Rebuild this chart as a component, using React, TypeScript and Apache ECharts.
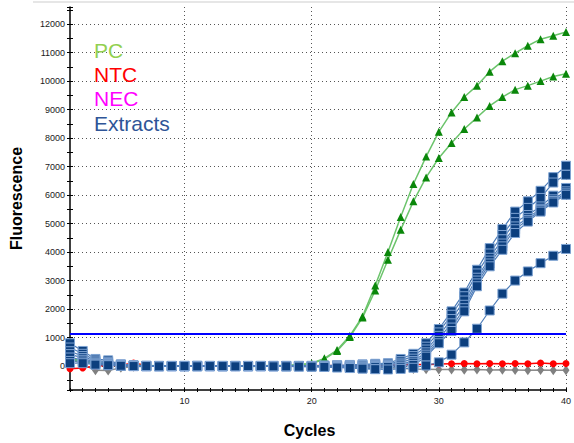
import React, { useEffect, useRef } from "react";
import * as echarts from "echarts";

const CYCLES = [1, 2, 3, 4, 5, 6, 7, 8, 9, 10, 11, 12, 13, 14, 15, 16, 17, 18, 19, 20, 21, 22, 23, 24, 25, 26, 27, 28, 29, 30, 31, 32, 33, 34, 35, 36, 37, 38, 39, 40];

const PC_A = [250, 200, 110, 80, 40, 30, 20, 10, 10, 10, 0, 10, 10, 0, 10, 10, 20, 30, 50, 100, 270, 560, 1060, 1740, 2830, 4000, 5230, 6390, 7350, 8220, 8900, 9440, 9840, 10330, 10700, 10980, 11240, 11470, 11590, 11720];
const PC_B = [200, 170, 100, 60, 30, 20, 10, 0, 10, 0, 10, 0, 0, 10, -20, 0, 10, 20, 40, 90, 240, 530, 1020, 1700, 2650, 3730, 4780, 5780, 6620, 7300, 7830, 8320, 8720, 9130, 9440, 9700, 9840, 10000, 10160, 10260];

const NTC = [-90, -70, 0, 20, 30, 110, 20, 10, 0, 10, 0, 0, 10, 0, 10, 0, 10, 0, 10, 10, 20, 10, 20, 10, 20, 30, 40, 60, 50, 70, 80, 90, 80, 90, 80, 90, 80, 110, 80, 90];
const NEC = [260, 60, -150, -160, -60, -20, -10, -10, 0, -10, 0, -10, 0, -10, 0, -10, 0, -10, -10, -10, -20, -20, -30, -40, -50, -60, -80, -100, -110, -120, -120, -130, -120, -140, -130, -140, -150, -140, -150, -150];

const EXT_1 = [800, 530, 250, 200, 60, 30, 10, 0, -10, 0, 10, 0, 0, 10, 0, 0, 10, 0, 0, 10, 20, 30, 40, 60, 80, 100, 250, 430, 800, 1300, 1920, 2580, 3380, 4140, 4810, 5420, 5780, 6150, 6630, 7030];
const EXT_2 = [650, 430, 200, 150, 50, 20, 0, 10, 0, -10, 0, 10, 0, 0, -10, 0, 0, 10, 0, 0, 10, 20, 20, 40, 50, 60, 180, 350, 680, 1180, 1800, 2450, 3250, 3950, 4600, 5200, 5550, 5900, 6440, 6710];
const EXT_3 = [520, 350, 160, 110, 40, 10, 0, 0, 10, 0, -10, 0, 10, 0, 0, -10, 0, 0, 10, 0, 0, 10, 0, 20, 30, 30, 120, 260, 580, 1060, 1650, 2300, 3100, 3800, 4450, 5050, 5300, 5600, 5980, 6250];
const EXT_4 = [420, 280, 120, 80, 30, 0, 10, 0, 0, 10, 0, -10, 0, 0, 10, 0, -10, 0, 0, -10, 0, 0, -20, -10, 0, 10, 60, 180, 480, 960, 1500, 2150, 3000, 3700, 4300, 4900, 5200, 5520, 5850, 6130];
const EXT_5 = [300, 220, 90, 60, 20, 10, 0, -10, 0, 0, 10, 0, -10, 0, 0, 10, 0, -10, 0, 0, -10, -20, -30, -40, -30, 0, 20, 120, 400, 880, 1350, 2030, 2900, 3600, 4200, 4800, 5130, 5470, 5790, 6060];
const EXT_6 = [180, 160, 60, 40, 10, 0, -10, 0, 0, -10, 0, 0, -10, 0, -10, 0, 0, -10, -10, -20, -30, -40, -60, -80, -100, -30, -40, 40, 330, 800, 1230, 1920, 2800, 3500, 4080, 4670, 5070, 5420, 5740, 6010];
const EXT_7 = [100, 100, 50, 30, 10, 0, 0, -10, 0, 0, -10, 0, 0, -10, 0, 0, -10, -10, -20, -20, -30, -50, -70, -90, -110, -120, -100, -60, 20, 130, 400, 830, 1310, 1950, 2540, 3000, 3320, 3610, 3870, 4110];
const EXTRACTS = [EXT_1, EXT_2, EXT_3, EXT_4, EXT_5, EXT_6, EXT_7];

const THRESHOLD = 1120;
const Y_MIN = -840;
const Y_MAX = 12600;
const X_MIN = 1;
const X_MAX = 40;

const LEGEND_ITEMS = [
  { name: "PC", color: "#92d050" },
  { name: "NTC", color: "#ff0000" },
  { name: "NEC", color: "#ff00ff" },
  { name: "Extracts", color: "#2f5597" },
];

const FONT = "'Liberation Sans', Arial, sans-serif";

const zip = (vals: number[]) => CYCLES.map((c, i) => [c, vals[i]]);

export default function App() {
  const ref = useRef<HTMLDivElement>(null);
  useEffect(() => {
    document.body.style.margin = "0";
    if (!ref.current) return;
    const chart = echarts.init(ref.current, undefined, { renderer: "svg" });

    const tickAxisX = (inside: boolean) => ({
      type: "value",
      min: X_MIN,
      max: X_MAX,
      interval: 1,
      position: "bottom",
      axisLine: { show: false, onZero: false },
      axisLabel: { show: false },
      splitLine: { show: false },
      axisTick: { show: true, inside, length: 2, lineStyle: { color: "#000", width: 1 } },
    });
    const tickAxisY = (inside: boolean) => ({
      type: "value",
      min: Y_MIN,
      max: Y_MAX,
      splitNumber: 27,
      position: "left",
      axisLine: { show: false, onZero: false },
      axisLabel: { show: false },
      splitLine: { show: false },
      axisTick: { show: true, inside, length: 3, lineStyle: { color: "#000", width: 1 } },
    });

    const series: any[] = [];
    series.push({
      name: "NEC",
      type: "line",
      data: zip(NEC),
      symbol: "diamond",
      symbolSize: [7, 10],
      itemStyle: { color: "#808080" },
      lineStyle: { color: "#8c8c8c", width: 1.5 },
      markLine: {
        silent: true,
        symbol: "none",
        label: { show: false },
        lineStyle: { color: "#0000ff", width: 2, type: "solid" },
        data: [{ yAxis: THRESHOLD }],
      },
    });
    series.push({
      name: "NTC",
      type: "line",
      data: zip(NTC),
      symbol: "circle",
      symbolSize: 7,
      itemStyle: { color: "#ff0000" },
      lineStyle: { color: "#ff0000", width: 1.5 },
    });
    [PC_A, PC_B].forEach((vals) =>
      series.push({
        name: "PC",
        type: "line",
        data: zip(vals),
        symbol: "triangle",
        symbolSize: 8,
        itemStyle: { color: "#0a870a" },
        lineStyle: { color: "#6cc46c", width: 1.5 },
      })
    );
    EXTRACTS.forEach((vals) =>
      series.push({
        name: "Extracts",
        type: "line",
        data: zip(vals),
        symbol: "rect",
        symbolSize: 9,
        itemStyle: { color: "#0c3f7e", borderColor: "#7ea3d3", borderWidth: 1 },
        lineStyle: { color: "#4d7cb8", width: 1.2 },
      })
    );

    chart.setOption({
      animation: false,
      backgroundColor: "#ffffff",
      grid: { left: 66.5, right: 6.7, top: 7, bottom: 52.7, containLabel: false },
      legend: {
        show: true,
        orient: "vertical",
        left: 84,
        top: 33,
        icon: "none",
        itemWidth: 0,
        itemHeight: 0,
        itemGap: 0.4,
        selectedMode: false,
        textStyle: { fontFamily: FONT, fontSize: 21, lineHeight: 24 },
        data: LEGEND_ITEMS.map((it) => ({ name: it.name, textStyle: { color: it.color } })),
      },
      graphic: [
        {
          type: "line",
          silent: true,
          shape: { x1: 33, y1: 2, x2: 574, y2: 2 },
          style: { stroke: "#e6e6e6", lineWidth: 2 },
        },
      ],
      xAxis: [
        {
          type: "value",
          min: X_MIN,
          max: X_MAX,
          splitNumber: 4,
          position: "bottom",
          name: "Cycles",
          nameLocation: "middle",
          nameGap: 32,
          nameTextStyle: { fontFamily: FONT, fontSize: 16, fontWeight: "bold", color: "#000", padding: [0, 17, 0, 0] },
          axisLine: { show: true, onZero: false, lineStyle: { color: "#000", width: 1.5 } },
          axisTick: { show: false },
          axisLabel: {
            margin: 6,
            fontFamily: FONT,
            fontSize: 9,
            color: "#1a1a1a",
            formatter: (v: number) => (v % 10 === 0 ? String(v) : ""),
          },
          splitLine: {
            show: true,
            showMinLine: false,
            lineStyle: { color: "#555", type: [1, 3], width: 1 },
          },
        },
        tickAxisX(false),
        tickAxisX(true),
      ],
      yAxis: [
        {
          type: "value",
          min: Y_MIN,
          max: Y_MAX,
          splitNumber: 13,
          position: "left",
          name: "Fluorescence",
          nameLocation: "middle",
          nameGap: 46,
          nameTextStyle: { fontFamily: FONT, fontSize: 16, fontWeight: "bold", color: "#000" },
          axisLine: { show: true, onZero: false, lineStyle: { color: "#000", width: 1.5 } },
          axisTick: { show: false },
          axisLabel: {
            margin: 5,
            fontFamily: FONT,
            fontSize: 9,
            color: "#1a1a1a",
            formatter: (v: number) => (v % 1000 === 0 && v >= 0 ? String(v) : ""),
          },
          splitLine: {
            show: true,
            showMinLine: false,
            showMaxLine: false,
            lineStyle: { color: "#555", type: [1, 3], width: 1 },
          },
        },
        tickAxisY(false),
        tickAxisY(true),
      ],
      series,
    });
    return () => chart.dispose();
  }, []);
  return <div ref={ref} style={{ width: 574, height: 443 }} />;
}
